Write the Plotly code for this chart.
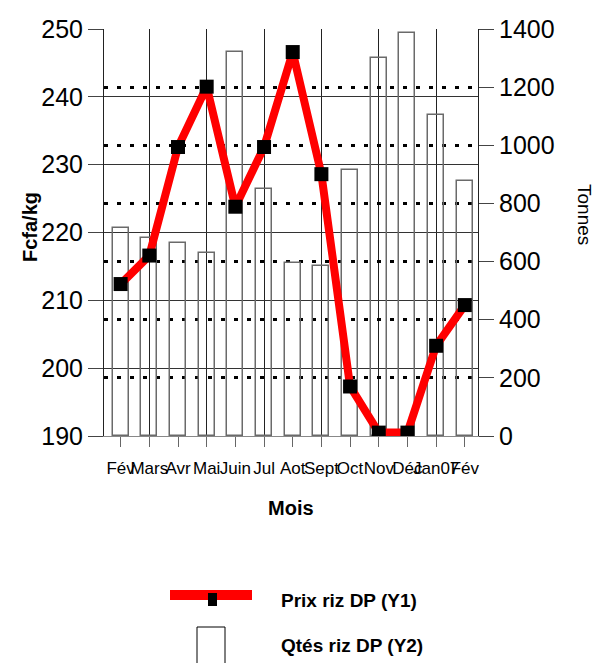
import plotly.graph_objects as go

months = ["Fév", "Mars", "Avr", "Mai", "Juin", "Jul", "Aot", "Sept", "Oct", "Nov", "Déc", "Jan07", "Fév"]
prix_riz = [212.4, 216.6, 232.6, 241.5, 223.8, 232.6, 246.6, 228.6, 197.3, 190.5, 190.5, 203.3, 209.3]
qtes_riz = [715, 682, 665, 630, 1322, 848, 594, 584, 916, 1300, 1385, 1103, 876]

idx = list(range(len(months)))

FONT = "Liberation Sans, Arial, sans-serif"
NARROW = "Liberation Sans Narrow, Liberation Sans, Arial, sans-serif"

fig = go.Figure()
fig.add_trace(go.Bar(
    x=idx, y=qtes_riz, name="Qtés riz DP (Y2)", yaxis="y",
    width=0.56, marker=dict(color="rgba(0,0,0,0)", line=dict(color="#6a6a6a", width=1.5)),
    showlegend=False,
))
fig.add_trace(go.Scatter(
    x=idx, y=prix_riz, name="Prix riz DP (Y1)", yaxis="y2", mode="lines+markers",
    line=dict(color="#ff0000", width=8),
    marker=dict(symbol="square", size=14, color="black"),
    showlegend=False,
))

# page offset of the figure (default body margin)
OFF = 8
# plot area in page pixels: x 104..478, y 29..436
L, R, T, B = 104, 478, 29, 436
W, H = R - L, B - T
def px(x):
    return (x - L) / W
def py(y):
    return (B - y) / H

shapes = [
    dict(type="line", xref="paper", yref="paper", x0=px(170), x1=px(252), y0=py(595), y1=py(595),
         line=dict(color="#ff0000", width=10)),
    dict(type="rect", xref="paper", yref="paper", x0=px(208), x1=px(217), y0=py(593), y1=py(606),
         fillcolor="black", line=dict(width=0)),
    dict(type="rect", xref="paper", yref="paper", x0=px(197), x1=px(225), y0=py(627), y1=py(670),
         fillcolor="white", line=dict(color="black", width=1)),
]

annotations = [
    dict(text="Mois", xref="paper", yref="paper", x=0.5, y=py(508), showarrow=False,
         font=dict(family=FONT, size=20, color="black", weight="bold"), xanchor="center", yanchor="middle"),
    dict(text="Fcfa/kg", xref="paper", yref="paper", x=px(30), y=py(227), showarrow=False, textangle=-90,
         font=dict(family=FONT, size=20, color="black", weight="bold"), xanchor="center", yanchor="middle"),
    dict(text="Tonnes", xref="paper", yref="paper", x=px(585), y=py(214), showarrow=False, textangle=90,
         font=dict(family=FONT, size=19, color="black"), xanchor="center", yanchor="middle"),
    dict(text="Prix riz DP (Y1)", xref="paper", yref="paper", x=px(279), y=py(600), showarrow=False,
         font=dict(family=FONT, size=19, color="black", weight="bold"), xanchor="left", yanchor="middle"),
    dict(text="Qtés riz DP (Y2)", xref="paper", yref="paper", x=px(279), y=py(645), showarrow=False,
         font=dict(family=FONT, size=19, color="black", weight="bold"), xanchor="left", yanchor="middle"),
]

fig.update_layout(
    width=601, height=663,
    margin=dict(l=L - OFF, r=601 - (R - OFF), t=T - OFF, b=663 - (B - OFF), pad=0, autoexpand=False),
    paper_bgcolor="white", plot_bgcolor="white",
    showlegend=False,
    bargap=0,
    xaxis=dict(
        range=[-0.58, 12.46], tickmode="array", tickvals=idx, ticktext=months, tickangle=0,
        ticks="outside", ticklen=10, tickcolor="#666", tickwidth=1, ticklabelstandoff=7,
        tickfont=dict(family=NARROW, size=17, color="black"),
        showgrid=False, zeroline=False, showline=True, linecolor="#888", linewidth=1, automargin=False,
        minor=dict(tickmode="array", tickvals=idx[1::2], showgrid=True, gridcolor="#222", gridwidth=1, ticks=""),
    ),
    yaxis=dict(
        side="right", range=[0, 1400], tickmode="linear", tick0=0, dtick=200,
        ticks="outside", ticklen=15, tickcolor="#444", tickwidth=1,
        tickfont=dict(family=FONT, size=25, color="black"),
        showgrid=True, gridcolor="black", gridwidth=3, griddash="4px,9px",
        zeroline=False, showline=True, linecolor="#222", linewidth=1, automargin=False,
    ),
    yaxis2=dict(
        overlaying="y", side="left", range=[190, 250], tickmode="linear", tick0=190, dtick=10,
        ticks="outside", ticklen=15, tickcolor="#444", tickwidth=1,
        tickfont=dict(family=FONT, size=25, color="black"),
        showgrid=True, gridcolor="#333", gridwidth=1,
        zeroline=False, showline=True, linecolor="#222", linewidth=1, automargin=False,
    ),
    shapes=shapes,
    annotations=annotations,
)

fig.write_html("out.html")
